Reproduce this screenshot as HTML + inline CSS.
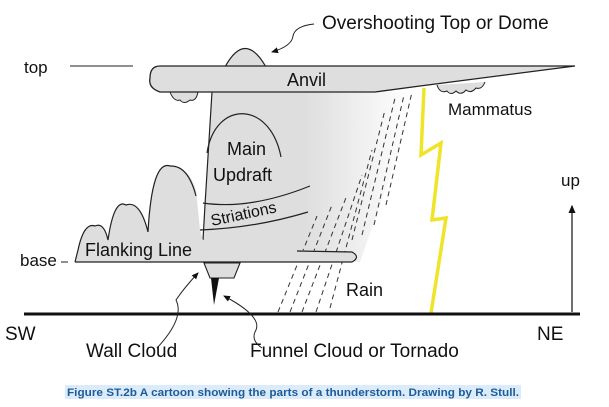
<!DOCTYPE html>
<html><head><meta charset="utf-8"><style>
html,body{margin:0;padding:0;background:#fff;width:609px;height:407px;overflow:hidden}
svg{display:block}
text{font-family:"Liberation Sans",sans-serif;fill:#111}
</style></head><body>
<svg width="609" height="407" viewBox="0 0 609 407" xmlns="http://www.w3.org/2000/svg">
<defs>
<linearGradient id="g" gradientUnits="userSpaceOnUse" x1="200" x2="410" y1="0" y2="0">
<stop offset="0" stop-color="#dedede"/><stop offset="0.5" stop-color="#dedede"/><stop offset="1" stop-color="#ffffff"/>
</linearGradient>
<marker id="ah" markerWidth="8" markerHeight="8" refX="6" refY="4" orient="auto"><path d="M0,1 L7,4 L0,7 Z" fill="#111"/></marker>
</defs>
<!-- body -->
<path d="M212,92 L203,240 L200,262 L360,262 L420,92 Z" fill="url(#g)"/>
<path d="M212,92 L205,205 L203,240" fill="none" stroke="#222" stroke-width="1.2"/>
<!-- rain -->
<g stroke="#333" stroke-width="1" stroke-dasharray="5,4" fill="none">
<line x1="278" y1="312" x2="317" y2="216"/>
<line x1="290" y1="312" x2="332" y2="205"/>
<line x1="302" y1="312" x2="347" y2="195"/>
<line x1="316" y1="312" x2="362" y2="175"/>
<line x1="330" y1="308" x2="372" y2="150"/>
<line x1="352" y1="240" x2="385" y2="110"/>
<line x1="362" y1="235" x2="395" y2="98"/>
<line x1="374" y1="225" x2="404" y2="95"/>
<line x1="386" y1="205" x2="412" y2="92"/>
</g>
<!-- dome -->
<path d="M225,67 Q245,30 266,67 Z" fill="#dedede" stroke="#222" stroke-width="1.2"/>
<!-- mammatus -->
<g fill="#dedede" stroke="#222" stroke-width="1">
<path d="M170,92 q4,10 10,8 q4,5 10,0 q6,2 8,-8"/>
<path d="M437,85 q3,9 10,6 q4,5 9,0 q5,5 10,-1 q5,4 10,-2 q6,2 9,-6"/>
</g>
<!-- anvil -->
<path d="M160,66 L575,66 L420,86 L375,92 L160,92 Q148,88 150,78 Q150,66 160,66 Z" fill="#dedede" stroke="#222" stroke-width="1.3"/>
<!-- flanking line -->
<path d="M75,262 L78,250 Q84,222 95,226 Q104,222 108,240 Q114,198 126,205 Q140,200 148,232 Q152,160 170,166 Q188,165 196,190 L200,230 L203,240 L300,250 L352,252 Q360,257 352,262 Z" fill="#dedede"/>
<path d="M75,262 L78,250 Q84,222 95,226 Q104,222 108,240 M108,240 Q114,198 126,205 Q140,200 148,232 M148,232 Q152,160 170,166 Q188,165 196,196" fill="none" stroke="#222" stroke-width="1.2"/>
<path d="M75,262 L352,262 Q361,257 352,252 L297,251" fill="none" stroke="#222" stroke-width="1.2"/>
<!-- updraft & striations -->
<path d="M207,153 C215,100 270,100 281,157" fill="none" stroke="#222" stroke-width="1.2"/>
<path d="M203,203 Q250,210 310,186" fill="none" stroke="#222" stroke-width="1.2"/>
<path d="M200,230 Q255,228 308,212" fill="none" stroke="#222" stroke-width="1.2"/>
<!-- wall cloud & tornado -->
<path d="M204,263 L240,263 L234,278 L210,278 Z" fill="#dedede" stroke="#222" stroke-width="1.1"/>
<path d="M211,278 L219,278 L214,305 Z" fill="#111"/>
<!-- lightning -->
<path d="M424,88 L421,155 L441,143 L432,220 L446,218 L431,313" fill="none" stroke="#f0e428" stroke-width="3.5"/>
<!-- ground -->
<line x1="24" y1="314" x2="580" y2="314" stroke="#111" stroke-width="3"/>
<!-- up arrow -->
<line x1="572" y1="312" x2="572" y2="206" stroke="#111" stroke-width="1.2" marker-end="url(#ah)"/>
<!-- top/base marks -->
<line x1="70" y1="66" x2="133" y2="66" stroke="#222" stroke-width="1"/>
<line x1="61" y1="262" x2="68" y2="262" stroke="#222" stroke-width="1"/>
<!-- leader lines -->
<path d="M314,24 Q295,26 293,36 Q292,46 272,52" fill="none" stroke="#222" stroke-width="1" marker-end="url(#ah)"/>
<path d="M157,348 Q185,318 176,300 Q184,288 198,273" fill="none" stroke="#222" stroke-width="1" marker-end="url(#ah)"/>
<path d="M262,348 Q250,340 256,330 Q262,316 224,296" fill="none" stroke="#222" stroke-width="1" marker-end="url(#ah)"/>
<!-- labels -->
<text x="322" y="29" font-size="19">Overshooting Top or Dome</text>
<text x="24" y="73" font-size="17">top</text>
<text x="287" y="86" font-size="18">Anvil</text>
<text x="448" y="115" font-size="17">Mammatus</text>
<text x="227" y="155" font-size="18">Main</text>
<text x="213" y="181" font-size="18">Updraft</text>
<text x="212" y="226" font-size="16" transform="rotate(-12 212 226)">Striations</text>
<text x="85" y="256" font-size="18">Flanking Line</text>
<text x="20" y="266" font-size="17">base</text>
<text x="346" y="296" font-size="18">Rain</text>
<text x="561" y="186" font-size="17">up</text>
<text x="5" y="340" font-size="19">SW</text>
<text x="537" y="340" font-size="19">NE</text>
<text x="86" y="357" font-size="19">Wall Cloud</text>
<text x="250" y="357" font-size="19">Funnel Cloud or Tornado</text>
<!-- caption -->
<rect x="65" y="385" width="456" height="14" fill="#dcebfa"/>
<text x="293" y="396" font-size="11" font-weight="bold" text-anchor="middle" style="fill:#1c5c98" textLength="452" lengthAdjust="spacingAndGlyphs">Figure ST.2b A cartoon showing the parts of a thunderstorm. Drawing by R. Stull.</text>
</svg>
</body></html>
